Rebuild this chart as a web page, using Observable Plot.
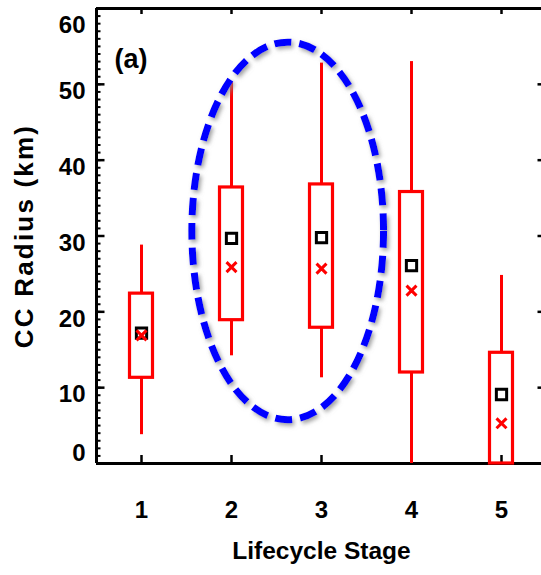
<!DOCTYPE html>
<html>
<head>
<meta charset="utf-8">
<script src="https://cdn.jsdelivr.net/npm/d3@7"></script>
<script src="https://cdn.jsdelivr.net/npm/@observablehq/plot@0.6"></script>
<style>
  html, body { margin: 0; padding: 0; background: #fff; }
  #chart svg { display: block; }
  #chart text[transform*="rotate(-90"] { letter-spacing: 2.2px; }
</style>
</head>
<body>
<div id="chart"></div>
<script>
// ---- data ----
const stages      = [1, 2, 3, 4, 5];
const whiskerLow  = [3.8, 14.2, 11.3, 0.0, 0.0];
const boxLow      = [11.3, 18.9, 17.9, 12.0, 0.0];
const boxHigh     = [22.4, 36.4, 36.8, 35.8, 14.6];
const whiskerHigh = [28.8, 50.3, 52.8, 53.0, 24.8];
const squareVals  = [17.2, 29.7, 29.8, 26.1, 9.1];
const crossVals   = [16.9, 25.9, 25.7, 22.8, 5.3];
const yTickValues = [0, 10, 20, 30, 40, 50, 60];
const xTickValues = [1, 2, 3, 4, 5];
const panelLabel  = "(a)";
const yLabel      = "CC Radius (km)";
const xLabel      = "Lifecycle Stage";
// highlighted group (stages 2-3) ellipse, in data units
const ellipseCenter = {x: 2.63, y: 30.6};
const ellipseRadius = {x: 1.065, y: 24.9};

const rows = stages.map((s, i) => ({
  stage: s, lo: whiskerLow[i], q1: boxLow[i], q3: boxHigh[i], hi: whiskerHigh[i],
  sq: squareVals[i], cr: crossVals[i]
}));

const W = 541, H = 575;
const mL = 96, mR = -5, mT = 8, mB = 112;
const xDom = [0.5, 5.5], yDom = [0, 60];
const pxX = (W - mR - mL) / (xDom[1] - xDom[0]);   // px per x unit
const pxY = (H - mB - mT) / (yDom[1] - yDom[0]);   // px per y unit
const font = "'Liberation Sans', Arial, Helvetica, sans-serif";
const minorTicks = d3.range(0, 61, 1);
const boxHalf = 11.5 / pxX;

const ellipseMark = (index, scales) => {
  const g = d3.create("svg:g");
  const defs = g.append("defs");
  const f = defs.append("filter").attr("id", "eshadow")
    .attr("x", "-20%").attr("y", "-20%").attr("width", "140%").attr("height", "140%");
  f.append("feDropShadow").attr("dx", 2).attr("dy", 2.5).attr("stdDeviation", 2)
    .attr("flood-color", "#888").attr("flood-opacity", 0.8);
  const cx = scales.x(ellipseCenter.x), cy = scales.y(ellipseCenter.y);
  const rx = Math.abs(scales.x(ellipseCenter.x + ellipseRadius.x) - cx);
  const ry = Math.abs(scales.y(ellipseCenter.y + ellipseRadius.y) - cy);
  g.append("ellipse").attr("cx", cx).attr("cy", cy).attr("rx", rx).attr("ry", ry)
    .attr("fill", "none").attr("stroke", "#0000ff").attr("stroke-width", 7)
    .attr("stroke-dasharray", "17,8").attr("filter", "url(#eshadow)");
  return g.node();
};

const chart = Plot.plot({
  width: W, height: H,
  marginLeft: mL, marginRight: mR, marginTop: mT, marginBottom: mB,
  style: {background: "#fff", fontFamily: font, overflow: "visible"},
  x: {domain: xDom, range: [mL, W - mR], axis: null},
  y: {domain: yDom, range: [H - mB, mT], axis: null},
  marks: [
    // minor & major ticks on left axis (inward)
    Plot.ruleY(minorTicks, {y: d => d, x1: xDom[0], x2: xDom[0] + 4.5 / pxX, stroke: "#000", strokeWidth: 2}),
    Plot.ruleY(yTickValues, {y: d => d, x1: xDom[0], x2: xDom[0] + 8.5 / pxX, stroke: "#000", strokeWidth: 2.5}),
    // right axis ticks (inward)
    Plot.ruleY(minorTicks, {y: d => d, x1: xDom[1] - 4.5 / pxX, x2: xDom[1], stroke: "#000", strokeWidth: 2}),
    Plot.ruleY(yTickValues, {y: d => d, x1: xDom[1] - 8.5 / pxX, x2: xDom[1], stroke: "#000", strokeWidth: 2.5}),
    // bottom & top ticks (inward)
    Plot.ruleX(xTickValues, {x: d => d, y1: 0, y2: 8 / pxY, stroke: "#000", strokeWidth: 2.5}),
    Plot.ruleX(xTickValues, {x: d => d, y1: 60 - 6 / pxY, y2: 60, stroke: "#000", strokeWidth: 2.5}),
    // frame
    Plot.ruleY([0], {x1: xDom[0], x2: xDom[1], stroke: "#000", strokeWidth: 3}),
    Plot.ruleY([60], {x1: xDom[0], x2: xDom[1], stroke: "#000", strokeWidth: 3}),
    Plot.ruleX([xDom[0]], {y1: 0, y2: 60, stroke: "#000", strokeWidth: 3}),
    Plot.ruleX([xDom[1]], {y1: 0, y2: 60, stroke: "#000", strokeWidth: 3}),
    // y tick labels
    Plot.text(yTickValues.filter(d => d > 0 && d < 60), {x: xDom[0], y: d => d, text: d => String(d),
      textAnchor: "end", dx: -11, dy: 7, fontSize: 24, fontWeight: "bold", fill: "#000"}),
    Plot.text([60], {x: xDom[0], y: d => d, text: d => String(d),
      textAnchor: "end", dx: -11, dy: 17, fontSize: 24, fontWeight: "bold", fill: "#000"}),
    Plot.text([0], {x: xDom[0], y: d => d, text: d => String(d),
      textAnchor: "end", dx: -11, dy: -10, fontSize: 24, fontWeight: "bold", fill: "#000"}),
    // x tick labels
    Plot.text(xTickValues, {x: d => d, y: 0, text: d => String(d), dy: 47,
      fontSize: 24, fontWeight: "bold", fill: "#000"}),
    // axis titles
    Plot.text([yLabel], {frameAnchor: "left", textAnchor: "middle", dx: -72, rotate: -90,
      fontSize: 26, fontWeight: "bold", fill: "#000"}),
    Plot.text([xLabel], {frameAnchor: "bottom", textAnchor: "middle", dy: 95, fontSize: 24.5, fontWeight: "bold", fill: "#000"}),
    Plot.text([panelLabel], {frameAnchor: "top-left", dx: 18, dy: 40, textAnchor: "start",
      fontSize: 27, fontWeight: "bold", fill: "#000"}),
    // whiskers
    Plot.ruleX(rows, {x: "stage", y1: "lo", y2: "q1", stroke: "#ff0000", strokeWidth: 3}),
    Plot.ruleX(rows, {x: "stage", y1: "q3", y2: "hi", stroke: "#ff0000", strokeWidth: 3}),
    // boxes
    Plot.rect(rows, {x1: d => d.stage - boxHalf, x2: d => d.stage + boxHalf, y1: "q1", y2: "q3",
      fill: "none", stroke: "#ff0000", strokeWidth: 3.2}),
    // markers
    Plot.dot(rows, {x: "stage", y: "sq", symbol: "square", r: 5.8, fill: "none", stroke: "#000", strokeWidth: 3}),
    Plot.dot(rows, {x: "stage", y: "cr", symbol: "times", r: 4.6, stroke: "#ff0000", strokeWidth: 3}),
    // highlight ellipse
    ellipseMark
  ]
});
document.getElementById("chart").appendChild(chart);
</script>
</body>
</html>
